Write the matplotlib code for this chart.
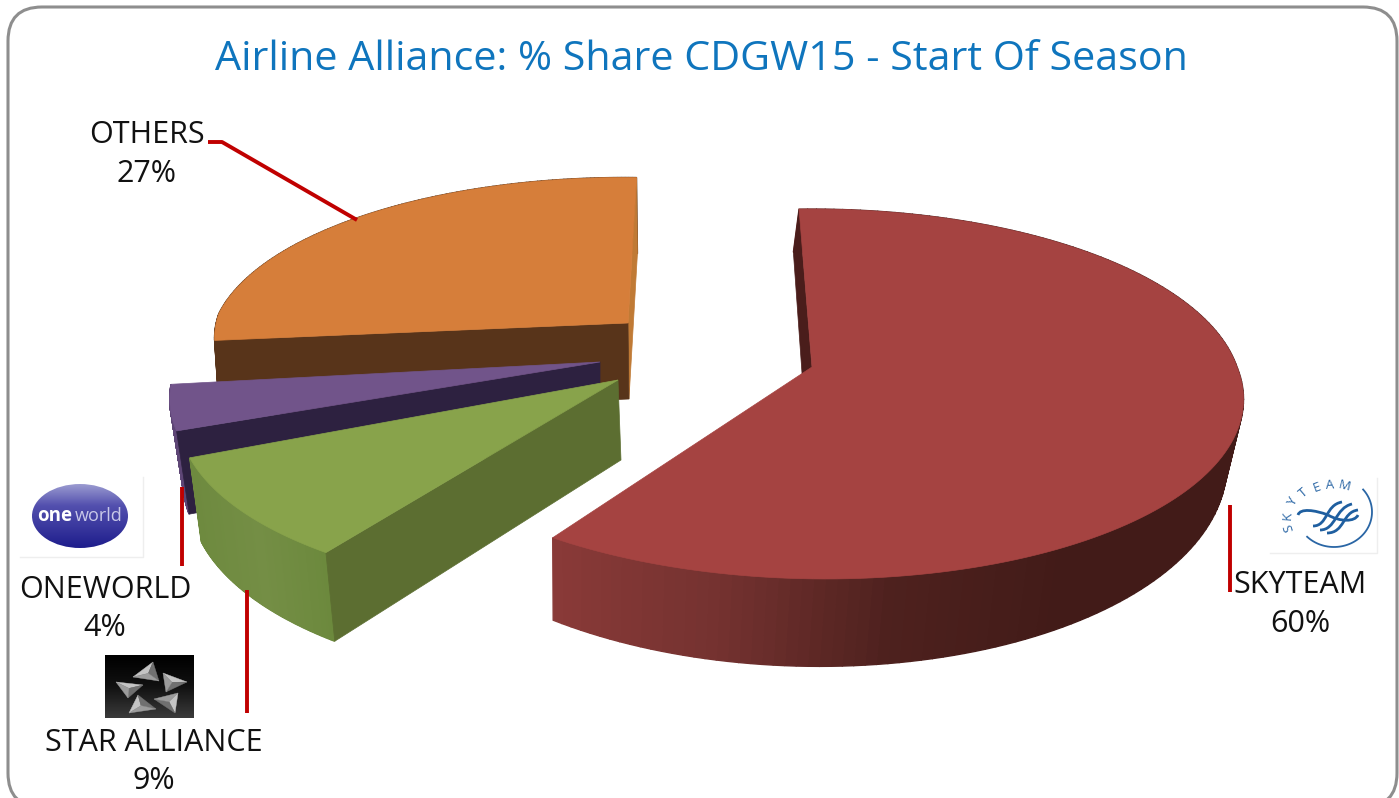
import numpy as np
import matplotlib
matplotlib.use('Agg')
import matplotlib.pyplot as plt
from matplotlib.colors import LinearSegmentedColormap
from matplotlib.patches import Polygon, FancyBboxPatch, Ellipse, PathPatch
from matplotlib.path import Path

title = 'Airline Alliance: % Share CDGW15 - Start Of Season'
names = ['SKYTEAM', 'STAR ALLIANCE', 'ONEWORLD', 'OTHERS']
shares = [60, 9, 4, 27]
start_angle = 92
K = 0.146

# apex, a, b, lean back/front, tilt, bottom offset dx dy, bottom scale sx sy, faces to show
layout = {
    'SKYTEAM': dict(apex=(812, 367), a=425, b=181, lean=(0, 0.065), tilt=0, dx=-6, dy=62, sx=.975, sy=1.12, faces=[0],
                    top='#A54341', wall='#4A1D1B',
                    side=['#8A3A38', '#743230', '#4E211E', '#421B18', '#421B18']),
    'STAR ALLIANCE': dict(apex=(618, 380), a=432, b=183, lean=(0, -0.1), tilt=0, dx=3, dy=80, sx=.98, sy=1.05, faces=[0],
                          top='#88A34B', wall='#5C6E31',
                          side=['#6E8A3F', '#748E45', '#6C893D']),
    'ONEWORLD': dict(apex=(600, 362), a=418, b=178, lean=(0, -0.22), tilt=.016, dx=0, dy=75, sx=.97, sy=1.12, faces=[0],
                     top='#71548A', wall='#2D2140',
                     side=['#5E4676', '#5E4676']),
    'OTHERS': dict(apex=(628, 323), a=409, b=167, lean=(-0.144, 0), tilt=.024, dx=1, dy=76, sx=.99, sy=1.0, faces=[-1, 0],
                   top='#D67E3A', wall='#58341A', sliver='#C07A35',
                   side=['#58341A', '#58341A']),
}
draw_order = ['SKYTEAM', 'OTHERS', 'ONEWORLD', 'STAR ALLIANCE']

labels = {
    'OTHERS': ((147, 135), (146, 174), '27%'),
    'ONEWORLD': ((105, 590), (105, 628), '4%'),
    'STAR ALLIANCE': ((154, 743), (154, 781), '9%'),
    'SKYTEAM': ((1300, 585), (1300, 624), '60%'),
}
leaders = [
    ([208, 222, 357], [142, 142, 220]),
    ([182, 182], [487, 566]),
    ([247, 247], [590, 713]),
    ([1230, 1230], [505, 592]),
]

fig = plt.figure(figsize=(13.99, 7.98), dpi=100)
ax = fig.add_axes([0, 0, 1, 1])
ax.axis('off')

ax.add_patch(FancyBboxPatch((8, 7), 1389, 800, boxstyle='round,pad=0,rounding_size=34',
                            fc='white', ec='#8E8E8E', lw=2.2, zorder=0))


def project(ang, p):
    t = np.radians(ang)
    X, Y = np.cos(t), np.sin(t)
    w = 1 + K * Y
    x = p['a'] * X / w
    y = -p['b'] * Y / w
    x = x + np.where(y < 0, p['lean'][0] * y, p['lean'][1] * y)
    y = y + p['tilt'] * x
    return p['apex'][0] + x, p['apex'][1] + y


def to_bottom(x, y, p):
    ax0, ay0 = p['apex']
    return ax0 + p['dx'] + p['sx'] * (x - ax0), ay0 + p['dy'] + p['sy'] * (y - ay0)


def draw_slice(name, a0, a1):
    p = layout[name]
    angs = np.linspace(a0, a1, 160)
    tx, ty = project(angs, p)
    bx, by = to_bottom(tx, ty, p)
    cmap = LinearSegmentedColormap.from_list(name, p['side'])
    # rounded side, split in thin strips so it gets the gradient
    xmin, xmax = tx.min(), tx.max()
    for i in range(len(angs) - 1):
        c = cmap((tx[i] - xmin) / max(xmax - xmin, 1))
        ax.add_patch(Polygon([(tx[i], ty[i]), (tx[i + 1], ty[i + 1]), (bx[i + 1], by[i + 1]), (bx[i], by[i])],
                             fc=c, ec=c, lw=1))
    ap = p['apex']
    ab = to_bottom(ap[0], ap[1], p)
    for idx in p['faces']:
        col = p['sliver'] if (name == 'OTHERS' and idx == -1) else p['wall']
        ax.add_patch(Polygon([ap, (tx[idx], ty[idx]), (bx[idx], by[idx]), ab], fc=col, ec=col, lw=.5))
    pts = [ap] + list(zip(tx, ty))
    ax.add_patch(Polygon(pts, fc=p['top'], ec=p['top'], lw=.5))


# angles of each slice from the shares, clockwise
a = start_angle
spans = {}
for n, s in zip(names, shares):
    spans[n] = (a, a - s * 3.6)
    a -= s * 3.6
for n in draw_order:
    draw_slice(n, *spans[n])

for xs, ys in leaders:
    ax.plot(xs, ys, color='#C00000', lw=2.8, solid_capstyle='butt', solid_joinstyle='round', zorder=5)

font = 'Open Sans'
ax.text(701, 60, title, color='#0F75BD', fontsize=29.7, family=font, ha='center', va='center')
for n, (p1, p2, pct) in labels.items():
    ax.text(p1[0], p1[1], n, fontsize=22, family=font, ha='center', va='center', color='#111111', zorder=6)
    ax.text(p2[0], p2[1], pct, fontsize=22, family=font, ha='center', va='center', color='#111111', zorder=6)

# oneworld logo
ax.plot([20, 143, 143], [557, 557, 477], color='#EEEEEE', lw=1)
ell = Ellipse((80, 516), 96, 64, fc='none', ec='none')
ax.add_patch(ell)
grad = np.linspace(0, 1, 64)[:, None] * np.ones((64, 96))
blue = LinearSegmentedColormap.from_list('ow', ['#9A9AD0', '#5350AE', '#3A389E', '#1E1D8C'])
im = ax.imshow(grad, extent=(32, 128, 548, 484), cmap=blue, aspect='auto', zorder=2)
im.set_clip_path(ell)
ax.text(37, 516, 'one', color='white', fontsize=13.5, family=font, weight='bold', va='center', zorder=3)
ax.text(75, 516, 'world', color='#C8C8E8', fontsize=13, family=font, va='center', zorder=3)

# star alliance logo
g2 = np.linspace(0, 1, 64)[:, None]
dark = LinearSegmentedColormap.from_list('sa', ['#000000', '#111111', '#3A3A3A'])
ax.imshow(g2, extent=(105, 194, 718, 655), cmap=dark, aspect='auto', zorder=2)
star_tris = [
    [(133, 677), (153, 662), (159, 681)],
    [(163, 673), (187, 682), (166, 692)],
    [(178, 693), (175, 713), (154, 699)],
    [(129, 713), (138, 695), (156, 709)],
    [(116, 682), (143, 685), (128, 698)],
]
shades = ['#C4C4C4', '#707070', '#9C9C9C']
for tri in star_tris:
    cx = sum(q[0] for q in tri) / 3
    cy = sum(q[1] for q in tri) / 3
    for j in range(3):
        ax.add_patch(Polygon([tri[j], tri[(j + 1) % 3], (cx, cy)], fc=shades[j], ec=shades[j], lw=.3, zorder=3))

# skyteam logo
ax.plot([1270, 1377, 1377], [553, 553, 478], color='#EEEEEE', lw=1)
sky_col = '#2A66A5'
letters = ['S', 'K', 'Y', 'T', 'E', 'A', 'M']
letter_ang = [197, 176, 152, 130, 110, 94, 76]
for ch, an in zip(letters, letter_ang):
    t = np.radians(an)
    ax.text(1333 + 46 * np.cos(t), 518 - 33 * np.sin(t), ch, color=sky_col, fontsize=9.5, family=font,
            rotation=an - 90, ha='center', va='center', zorder=3)
t = np.radians(np.linspace(40, -135, 60))
ax.plot(1334 + 38 * np.cos(t), 512 - 35 * np.sin(t), color=sky_col, lw=1.3, zorder=3)
swoosh = [
    [(1313, 526), (1328, 526), (1325, 505), (1342, 502)],
    [(1320, 530), (1336, 530), (1335, 508), (1352, 504)],
    [(1327, 533), (1345, 533), (1342, 512), (1358, 510)],
    [(1298, 515), (1300, 508), (1315, 510), (1328, 515)],
    [(1358, 515), (1355, 522), (1340, 522), (1328, 515)],
]
for s in swoosh:
    ax.add_patch(PathPatch(Path(s, [Path.MOVETO, Path.CURVE4, Path.CURVE4, Path.CURVE4]),
                           fc='none', ec='#1F5FA0', lw=2, zorder=3))

ax.set_xlim(0, 1399)
ax.set_ylim(798, 0)
fig.savefig('out.png', dpi=100, facecolor='white')
